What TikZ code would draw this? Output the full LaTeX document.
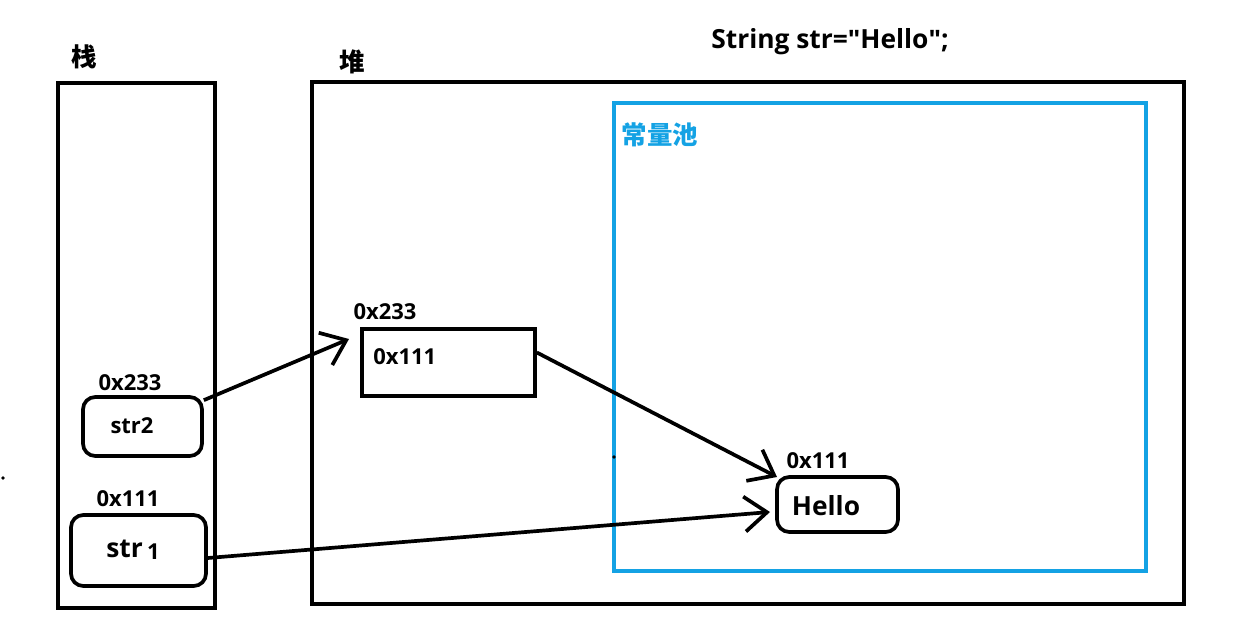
\documentclass[tikz,border=0pt]{standalone}
\usepackage{fontspec}
\setmainfont{Open Sans}
\newfontfamily\cjk{Noto Sans CJK SC}
\newfontfamily\quotefont{Liberation Sans}
\newcommand{\dq}{{\quotefont\char"22}}
\usetikzlibrary{arrows.meta}
\definecolor{poolblue}{RGB}{20,162,228}
\tikzset{
  wall/.style={line width=2.1pt},
  cell/.style={draw,line width=2.1pt,rounded corners=7pt,inner sep=0pt},
  addr/.style={font=\bfseries\fontsize{12.5}{13}\selectfont,inner sep=0pt},
  zone/.style={font=\cjk\bfseries\fontsize{14.5}{15}\selectfont,inner sep=0pt},
  ptr/.style={line width=2.1pt,-{Straight Barb[length=4.5mm,width=7mm,line width=2.1pt]}}
}
\begin{document}
\begin{tikzpicture}[x=0.02cm,y=-0.02cm]
    \useasboundingbox (0,0) rectangle (1233,618);

    % stack and heap
    \draw[wall] (58,83) rectangle (215,608);
    \node[zone] (stklbl) at (84,57) {栈};
    \draw[wall] (312,82) rectangle (1184,604);
    \node[zone] (heaplbl) at (352,62) {堆};
    \node[font=\bfseries\fontsize{15}{16}\selectfont,inner sep=0pt] (code) at (830,42) {String str=\dq Hello\dq;};

    % constant pool
    \draw[line width=1.9pt,poolblue] (614,103) rectangle (1146,571);
    \node[zone,text=poolblue] (poollbl) at (660,135) {常量池};

    % stack cells
    \node[cell,minimum width=2.38cm,minimum height=1.18cm] (strtwo) at (142.5,426.5) {};
    \node[addr] at (132,426) {str2};
    \node[addr] (strtwoadr) at (130,383) {0x233};
    \node[cell,minimum width=2.7cm,minimum height=1.42cm] (strone) at (138.5,550.5) {};
    \node[font=\bfseries\fontsize{15}{16}\selectfont,inner sep=0pt] at (133,550) {str\,\raisebox{-0.15ex}{\fontsize{12.5}{13}\selectfont 1}};
    \node[addr] (stroneadr) at (128,499) {0x111};

    % heap object
    \node[draw,line width=2.1pt,minimum width=3.46cm,minimum height=1.34cm] (obj) at (448.5,362.5) {};
    \node[addr,anchor=west] (objval) at (373,357) {0x111};
    \node[addr] (objadr) at (385,312) {0x233};

    % pooled string
    \node[cell,minimum width=2.42cm,minimum height=1.1cm] (hello) at (837.5,504.5) {};
    \node[font=\bfseries\fontsize{15}{16}\selectfont,inner sep=0pt] at (826,506) {Hello};
    \node[addr] (helloadr) at (818,461) {0x111};

    % references
    \coordinate (objin) at (349,339);
    \coordinate (helloin) at (777,477);
    \coordinate (helloleft) at (770,512);
    \draw[ptr] (strtwo.north east) ++(0,5) -- (objin);
    \draw[ptr] (obj.east) ++(0,-10) -- (helloin);
    \draw[ptr] (strone.east) ++(0,7.5) -- (helloleft);

    % stray pen marks
    \foreach \p in {(215,411),(312,425),(614,457),(3,478)}
      \fill \p circle (1.8);
\end{tikzpicture}
\end{document}
